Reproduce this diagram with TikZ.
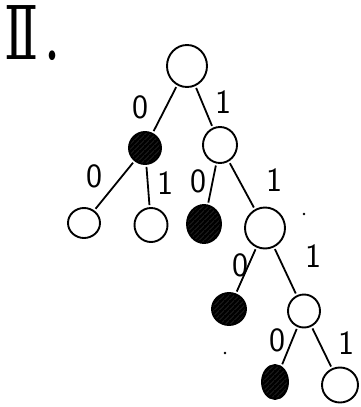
\documentclass[tikz,border=0pt]{standalone}
\usepackage{fontspec}
\newfontfamily\titlefont{DejaVu Serif}
\usetikzlibrary{shapes.geometric,patterns.meta}
\tikzdeclarepattern{name=hatchfill,type=uncolored,
  bottom left={(-1pt,-1pt)},top right={(6pt,6pt)},tile size={(5pt,5pt)},
  code={\draw[line width=3.3pt] (-1pt,-1pt)--(6pt,6pt);}}
\begin{document}
\begin{tikzpicture}[x=1pt,y=-1pt,
  vtx/.style={ellipse,draw,line width=1.9pt,inner sep=0pt},
  hatched/.style={vtx,pattern=hatchfill},
  edge/.style={line width=1.8pt,shorten <=2pt,shorten >=2pt},
  lbl/.style={font=\sffamily\fontsize{34}{34}\selectfont,inner sep=0pt}]
\useasboundingbox (0,0) rectangle (361,407);
\node[font=\titlefont\fontsize{74}{74}\selectfont,inner sep=0pt,anchor=base west,xscale=0.68] (title) at (4,59) {Ⅱ\hspace{0.12em}.};
\node[vtx,minimum width=40pt,minimum height=42pt] (root) at (187,66) {};
\node[hatched,minimum width=32pt,minimum height=32pt] (L) at (145,148) {};
\node[vtx,minimum width=34pt,minimum height=36pt] (R) at (220,145) {};
\node[vtx,minimum width=32pt,minimum height=30pt] (LL) at (84,223) {};
\node[vtx,minimum width=33pt,minimum height=34pt] (LR) at (151,225) {};
\node[hatched,minimum width=34pt,minimum height=38pt] (RL) at (204,224) {};
\node[vtx,minimum width=40pt,minimum height=41pt] (RR) at (265,228) {};
\node[hatched,minimum width=34pt,minimum height=32pt] (RRL) at (229,309) {};
\node[vtx,minimum width=32pt,minimum height=33pt] (RRR) at (304,311) {};
\node[hatched,minimum width=26pt,minimum height=34pt] (RRRL) at (275,382) {};
\node[vtx,minimum width=36pt,minimum height=35pt] (RRRR) at (340,385) {};
\draw[edge] (root) -- (L);
\draw[edge] (root) -- (R);
\draw[edge] (L) -- (LL);
\draw[edge] (L) -- (LR);
\draw[edge] (R) -- (RL);
\draw[edge] (R) -- (RR);
\draw[edge] (RR) -- (RRL);
\draw[edge] (RR) -- (RRR);
\draw[edge] (RRR) -- (RRRL);
\draw[edge] (RRR) -- (RRRR);
\node[lbl] (l1) at (140,107) {0};
\node[lbl] (l2) at (223,102) {1};
\node[lbl] (l3) at (94,176) {0};
\node[lbl] (l4) at (165,183) {1};
\node[lbl] (l5) at (198,181) {0};
\node[lbl] (l6) at (274,180) {1};
\node[lbl] (l7) at (240,265) {0};
\node[lbl] (l8) at (313,256) {1};
\node[lbl] (l9) at (277,340) {0};
\node[lbl] (l10) at (346,343) {1};
\fill (304,214) circle (1.3pt);
\fill (225,353) circle (1.3pt);
\end{tikzpicture}
\end{document}
